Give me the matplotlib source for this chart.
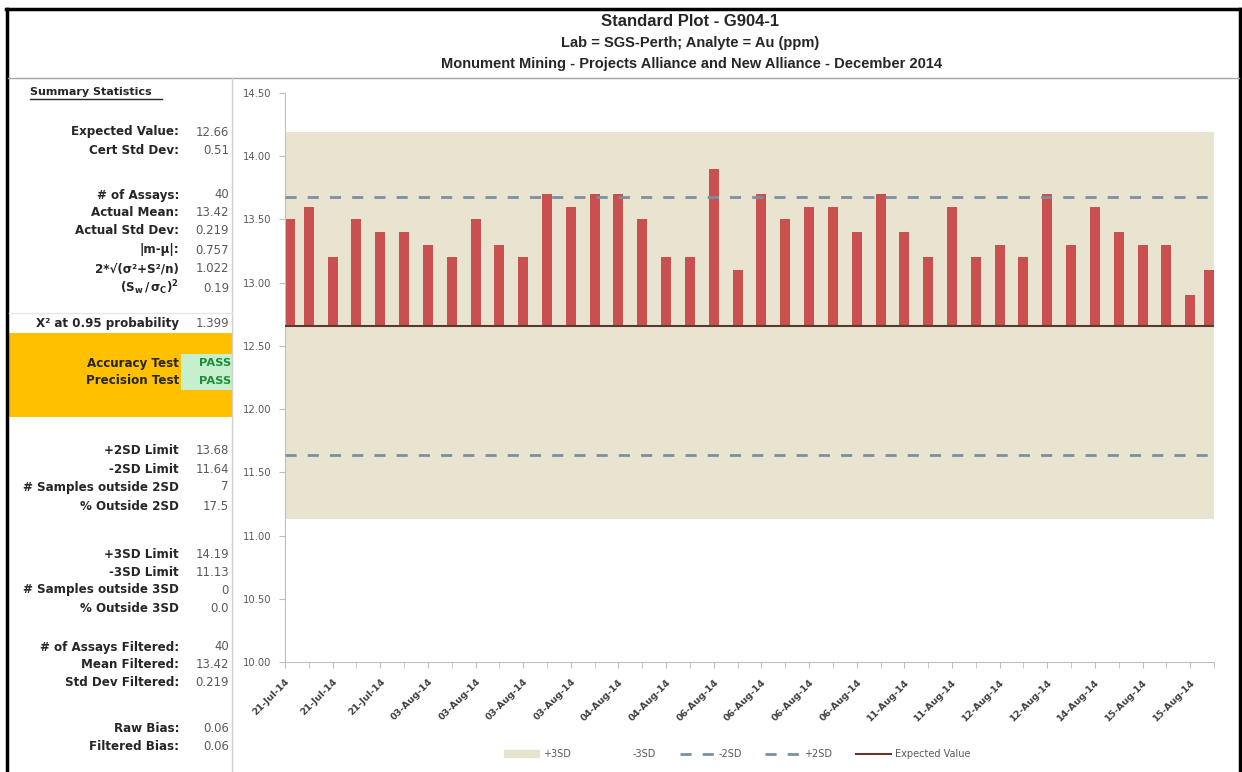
import numpy as np
import matplotlib
matplotlib.use('Agg')
import matplotlib.pyplot as plt
from matplotlib.patches import Patch, Rectangle
from matplotlib.lines import Line2D

plt.rcParams['font.family'] = ['DejaVu Sans']

# donnees
assays = [13.5, 13.6, 13.2, 13.5, 13.4, 13.4, 13.3, 13.2, 13.5, 13.3,
          13.2, 13.7, 13.6, 13.7, 13.7, 13.5, 13.2, 13.2, 13.9, 13.1,
          13.7, 13.5, 13.6, 13.6, 13.4, 13.7, 13.4, 13.2, 13.6, 13.2,
          13.3, 13.2, 13.7, 13.3, 13.6, 13.4, 13.3, 13.3, 12.9, 13.1]
tick_labels = ['21-Jul-14', '21-Jul-14', '21-Jul-14', '03-Aug-14', '03-Aug-14',
               '03-Aug-14', '03-Aug-14', '04-Aug-14', '04-Aug-14', '06-Aug-14',
               '06-Aug-14', '06-Aug-14', '06-Aug-14', '11-Aug-14', '11-Aug-14',
               '12-Aug-14', '12-Aug-14', '14-Aug-14', '15-Aug-14', '15-Aug-14']
expected = 12.66
plus2sd, minus2sd = 13.68, 11.64
plus3sd, minus3sd = 14.19, 11.13

stat_labels = ['Expected Value:', 'Cert Std Dev:',
               '# of Assays:', 'Actual Mean:', 'Actual Std Dev:', '|m-µ|:',
               '2*√(σ²+S²/n)', r'$\mathbf{(S_w\,/\,\sigma_C)^2}$',
               'X² at 0.95 probability',
               '+2SD Limit', '-2SD Limit', '# Samples outside 2SD', '% Outside 2SD',
               '+3SD Limit', '-3SD Limit', '# Samples outside 3SD', '% Outside 3SD',
               '# of Assays Filtered:', 'Mean Filtered:', 'Std Dev Filtered:',
               'Raw Bias:', 'Filtered Bias:']
stat_values = ['12.66', '0.51', '40', '13.42', '0.219', '0.757', '1.022', '0.19',
               '1.399', '13.68', '11.64', '7', '17.5', '14.19', '11.13', '0', '0.0',
               '40', '13.42', '0.219', '0.06', '0.06']
tests = ['Accuracy Test', 'Precision Test']
test_results = ['PASS', 'PASS']

# mise en page (pixels)
W, H = 1242, 772
stat_rows = [132, 150, 195, 213, 231, 250, 269, 288, 324,
             451, 469, 487, 506, 554, 572, 590, 608, 647, 665, 683, 728, 746]
test_rows = [363, 381]


def fx(x):
    return x / W


def fy(y):
    return 1 - y / H


fig = plt.figure(figsize=(W / 100, H / 100), dpi=100)
ax = fig.add_axes([fx(285), fy(662), fx(1214) - fx(285), fy(93) - fy(662)])

n = len(assays)
idx = np.arange(n)
w = 0.42
xpos = np.clip(idx, w / 2, n - 1 - w / 2)   # Excel rentre les barres des bords

ax.fill_between([0, n - 1], minus3sd, plus3sd, color='#E9E4D0', lw=0, zorder=0)
ax.bar(xpos, np.array(assays) - expected, bottom=expected, width=w,
       color='#C9504F', zorder=2)
ax.axhline(plus2sd, color='#7A8FA6', lw=2, dashes=(4, 4), zorder=3)
ax.axhline(minus2sd, color='#7A8FA6', lw=2, dashes=(4, 4), zorder=3)
ax.axhline(expected, color='#5A3A30', lw=1.5, zorder=3)

ax.set_xlim(0, n - 1)
ax.set_ylim(10, 14.5)
ax.set_yticks(np.arange(10, 14.51, 0.5))
ax.set_yticklabels(['%.2f' % t for t in np.arange(10, 14.51, 0.5)])
ax.set_xticks(idx[::2])
ax.set_xticklabels(tick_labels, rotation=45, ha='right', va='top',
                   rotation_mode='anchor', fontsize=6.8, fontweight='bold',
                   color='#404040')
ax.set_xticks(idx, minor=True)
ax.tick_params(axis='y', labelsize=7.2, labelcolor='#595959', color='#BFBFBF',
               length=4, pad=6)
ax.tick_params(axis='x', which='both', color='#BFBFBF', length=4, pad=7)
for s in ['top', 'right']:
    ax.spines[s].set_visible(False)
for s in ['left', 'bottom']:
    ax.spines[s].set_color('#BFBFBF')

# legende
handles = [Patch(color='#E9E4D0'), Patch(color='white'),
           Line2D([], [], color='#7A8FA6', lw=2, dashes=(4, 4)),
           Line2D([], [], color='#7A8FA6', lw=2, dashes=(4, 4)),
           Line2D([], [], color='#5A3A30', lw=1.5)]
fig.legend(handles, ['+3SD', '-3SD', '-2SD', '+2SD', 'Expected Value'],
           loc='center', bbox_to_anchor=(fx(737), fy(754)), ncol=5,
           frameon=False, fontsize=7, labelcolor='#595959',
           handlelength=3.6, handletextpad=0.4, columnspacing=2.4)

# titres
tfont = ['Liberation Sans', 'DejaVu Sans']
fig.text(fx(690), fy(21), 'Standard Plot - G904-1', ha='center', va='center',
         fontsize=12, fontweight='bold', color='#262626', family=tfont)
fig.text(fx(690), fy(43), 'Lab = SGS-Perth; Analyte = Au (ppm)', ha='center',
         va='center', fontsize=10.5, fontweight='bold', color='#262626', family=tfont)
fig.text(fx(692), fy(64),
         'Monument Mining - Projects Alliance and New Alliance - December 2014',
         ha='center', va='center', fontsize=10.5, fontweight='bold', color='#262626',
         family=tfont)

# cadre
fig.add_artist(Line2D([fx(6), fx(1241)], [fy(9), fy(9)], color='black', lw=2.5))
fig.add_artist(Line2D([fx(7), fx(7)], [fy(9), fy(H + 2)], color='black', lw=2.5))
fig.add_artist(Line2D([fx(1240), fx(1240)], [fy(9), fy(H + 2)], color='black', lw=2.5))
fig.add_artist(Line2D([fx(8), fx(1239)], [fy(78), fy(78)], color='#A6A6A6', lw=1))
fig.add_artist(Line2D([fx(232), fx(232)], [fy(78), fy(H + 2)], color='#D0D0D0', lw=1))
fig.add_artist(Line2D([fx(9), fx(232)], [fy(313), fy(313)], color='#E6E6E6', lw=1))

# statistiques
fig.text(fx(30), fy(92), 'Summary Statistics', ha='left', va='center',
         fontsize=8, fontweight='bold', color='#262626')
fig.add_artist(Line2D([fx(30), fx(162)], [fy(99), fy(99)], color='#262626', lw=1))
for lab, val, y in zip(stat_labels, stat_values, stat_rows):
    fig.text(fx(179), fy(y), lab, ha='right', va='center', fontsize=8.6,
             fontweight='bold', color='#262626')
    fig.text(fx(229), fy(y), val, ha='right', va='center', fontsize=8.4,
             color='#595959')

fig.add_artist(Rectangle((fx(8), fy(417)), fx(224), fy(333) - fy(417),
                         color='#FFC000', lw=0))
for lab, res, y in zip(tests, test_results, test_rows):
    fig.add_artist(Rectangle((fx(181), fy(y + 9)), fx(51), fy(y - 9) - fy(y + 9),
                             color='#C6EFCE', lw=0))
    fig.text(fx(179), fy(y), lab, ha='right', va='center', fontsize=8.6,
             fontweight='bold', color='#262626')
    fig.text(fx(231), fy(y), res, ha='right', va='center', fontsize=8.2,
             fontweight='bold', color='#1E8C3A')

fig.savefig('out.png', dpi=100)
